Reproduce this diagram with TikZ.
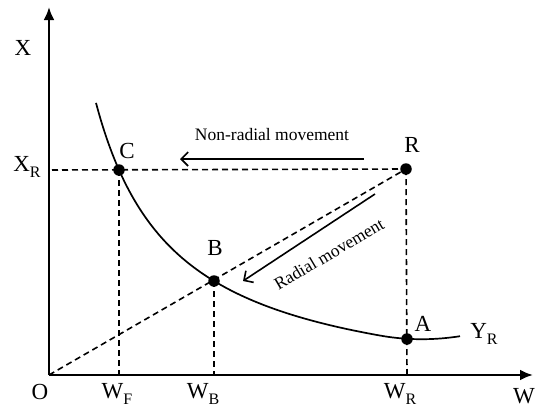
\documentclass[tikz,border=0pt]{standalone}
\usepackage{fontspec}
\setmainfont{Liberation Serif}
\usetikzlibrary{arrows.meta}
\newcommand{\lowsub}[1]{\raisebox{-0.28em}{\fontsize{16}{16}\selectfont #1}}
\tikzset{
  axis/.style={line width=2.4pt,-{Latex[length=13pt,width=11pt]}},
  dashline/.style={line width=1.6pt,dash pattern=on 6pt off 4pt},
  curve/.style={line width=1.7pt},
  move/.style={line width=1.6pt,-{Straight Barb[length=7pt,width=14pt,line width=1.6pt]}},
  dot/.style={circle,fill=black,inner sep=0pt,minimum size=11.5pt},
  lab/.style={font=\fontsize{23}{23}\selectfont,inner sep=0pt},
  mtext/.style={font=\fontsize{17.5}{17.5}\selectfont,inner sep=0pt}
}
\begin{document}
\begin{tikzpicture}[x=1pt,y=-1pt]
\useasboundingbox (0,0) rectangle (539,408);
% points
\coordinate (O) at (49,375);
\coordinate (Ytop) at (49,7);
\coordinate (Xend) at (533,375);
\coordinate (XRl) at (52,170);
\coordinate (Rc) at (406,169);
\coordinate (Cc) at (119,170);
\coordinate (Bc) at (214,281);
\coordinate (Ac) at (407,339);
\coordinate (WF) at (119,375);
\coordinate (WB) at (214,375);
\coordinate (WR) at (407,375);
% dashed lines
\draw[dashline] (O) -- (Rc);
\draw[dashline] (XRl) -- (Rc);
\draw[dashline] (Cc) -- (WF);
\draw[dashline] (Bc) -- (WB);
\draw[dashline] (Rc) -- (WR);
% curve
\draw[curve] plot[domain=96:460,samples=120,smooth] (\x,{400.3-235/((\x-16.94)*0.01)-0.00172*(max(0,\x-380))^2});
% axes
\draw[axis] (O) -- (Ytop);
\draw[axis] (O) -- (Xend);
% dots
\node[dot] (C) at (Cc) {};
\node[dot] (B) at (Bc) {};
\node[dot] (A) at (Ac) {};
\node[dot] (R) at (Rc) {};
% movements
\coordinate (n1) at (364,159);
\coordinate (n2) at (180,159);
\draw[move] (n1) -- (n2);
\node[mtext,anchor=base] (nrt) at (272,140) {Non-radial movement};
\coordinate (r1) at (375,194);
\coordinate (r2) at (243,281);
\draw[move] (r1) -- (r2);
\node[mtext,rotate=30.5] (rt) at (329,254) {Radial movement};
% labels
\node[lab] (lX) at (23,48) {X};
\node[lab] (lXR) at (27,167) {X\lowsub{R}};
\node[lab] (lC) at (127,151) {C};
\node[lab] (lR) at (412,145) {R};
\node[lab] (lB) at (215,248) {B};
\node[lab] (lA) at (423,324) {A};
\node[lab] (lYR) at (484,334) {Y\lowsub{R}};
\node[lab] (lO) at (40,392) {O};
\node[lab] (lWF) at (117,394) {W\lowsub{F}};
\node[lab] (lWB) at (203,394) {W\lowsub{B}};
\node[lab] (lWR) at (400,394) {W\lowsub{R}};
\node[lab] (lW) at (524,396) {W};
\end{tikzpicture}
\end{document}
